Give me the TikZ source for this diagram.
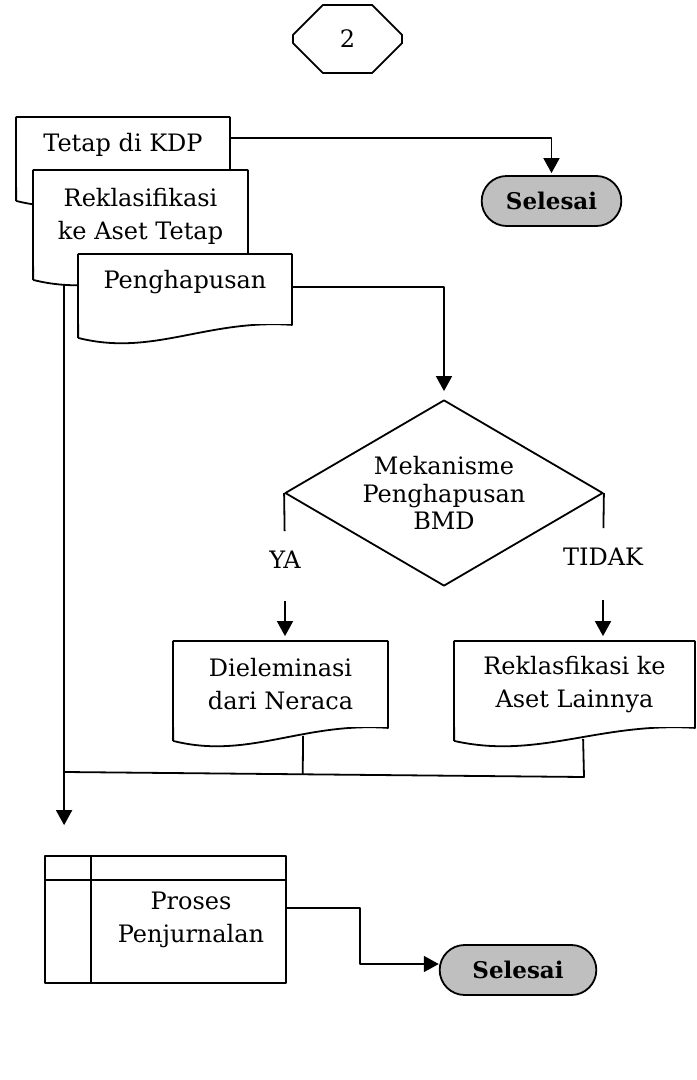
\documentclass[tikz,border=0pt]{standalone}
\usepackage{fontspec}
\setmainfont{DejaVu Serif}
\usetikzlibrary{shapes.geometric,shapes.misc,arrows.meta,calc}

% document shape: rectangle node, wavy bottom added after it
\tikzset{
	doc/.style={fill=white, minimum width=#1, inner sep=1pt, align=center,
		append after command={\pgfextra{\let\dn\tikzlastnode
			\fill[white] (\dn.south west) -- (\dn.south east)
				.. controls ($(\dn.south west)!.6!(\dn.south east)+(0,-6)$)
				and ($(\dn.south west)!.35!(\dn.south east)+(0,32)$) .. ($(\dn.south west)+(0,13)$) -- cycle;
			\draw ($(\dn.south west)+(0,13)$) -- (\dn.north west) -- (\dn.north east) -- (\dn.south east)
				.. controls ($(\dn.south west)!.6!(\dn.south east)+(0,-6)$)
				and ($(\dn.south west)!.35!(\dn.south east)+(0,32)$) .. ($(\dn.south west)+(0,13)$);
		}}},
}

\begin{document}
\begin{tikzpicture}[x=0.5pt, y=-0.5pt, line width=0.9pt, line join=round,
	font=\fontsize{12}{16.5}\selectfont, >={Triangle[width=8pt,length=7.5pt]},
	term/.style={draw, rounded rectangle, fill=black!25, minimum height=25pt, font=\fontsize{11.5}{16}\selectfont\bfseries},
	lbl/.style={inner sep=0pt, minimum height=28pt}]
	\useasboundingbox (0,0) rectangle (696,1080);
	\path
	(65,772) coordinate (J1)
	(584,777) coordinate (J2)
		;
	\node[draw, chamfered rectangle, chamfered rectangle xsep=10pt, chamfered rectangle ysep=10pt,
		minimum width=54.5pt, minimum height=34pt] (konektor) at (347.5,39) {2};
	% three documents, stacked
	\node[doc=106pt, minimum height=34.5pt, text depth=10pt] (tetap) at (123,152.5) {Tetap di KDP};
	\node[doc=106.5pt, minimum height=47.5pt, text depth=5pt] (reklas) at (140.5,218.5) {Reklasifikasi\\ke Aset Tetap};
	\node[doc=106pt, minimum height=34.5pt, text depth=10pt] (hapus) at (185,289.5) {Penghapusan};
	\node[term, minimum width=76.5pt] (sel1) at (551.5,201) {Selesai};
	\draw[->, shorten >=1pt] ([yshift=7.25pt]tetap.east) -| (sel1.north);
	% decision
	\node[draw, diamond, aspect=1.71, inner sep=0pt, minimum width=159pt, minimum height=93pt, align=center,
		font=\fontsize{12}{13.75}\selectfont] (mek) at (444,493) {Mekanisme\\Penghapusan\\BMD};
	\draw[->, shorten >=4pt] ([yshift=1.25pt]hapus.east) -| (mek.north);
	\node[lbl] (ya) at (285,560) {YA};
	\node[lbl] (tidak) at (603,557) {TIDAK};
	\node[doc=106.5pt, minimum height=42.5pt] (elim) at (280.5,684.5) {Dieleminasi\\dari Neraca};
	\node[doc=119.5pt, minimum height=42.5pt] (lain) at (574.5,684.5) {Reklasfikasi ke\\Aset Lainnya};
	\draw (mek.west) -- (ya);
	\draw (mek.east) -- (tidak);
	\draw[->, shorten <=6pt, shorten >=2.5pt] (ya) -- (ya |- elim.north);
	\draw[->, shorten <=7pt, shorten >=2.5pt] (tidak) -- (tidak |- lain.north);
	% journal
	\node[draw, minimum width=120.5pt, minimum height=63.5pt] (proses) at (165.5,919.5) {};
	\draw ([xshift=23.5pt]proses.north west) -- ([xshift=23.5pt]proses.south west);
	\draw ([yshift=-12.5pt]proses.north west) -- ([yshift=-12.5pt]proses.north east);
	\node[align=center] (jurnal) at (191,920) {Proses\\Penjurnalan};
	\node[term, minimum width=85pt] (sel2) at (518,970) {Selesai};
	\draw[->] ([xshift=15.5pt,yshift=-8.5pt]reklas.south west) -- ([xshift=10pt,yshift=15pt]proses.north west);
	\draw ([xshift=65pt,yshift=-4pt]elim.south west) -- ($(J1)!([xshift=65pt,yshift=-4pt]elim.south west)!(J2)$);
	\draw ([xshift=64.5pt,yshift=-5.5pt]lain.south west) -- (J2) -- (J1);
	\draw[->] ([yshift=5.75pt]proses.east) -- ++(73,0) |- ([yshift=3pt]sel2.west);
\end{tikzpicture}
\end{document}
